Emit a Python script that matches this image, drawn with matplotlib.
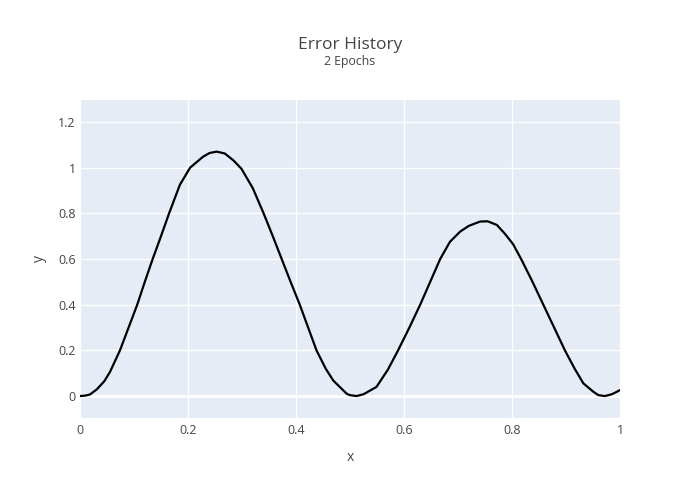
import matplotlib
matplotlib.use("Agg")
import matplotlib.pyplot as plt

# error curve
xs = [0.0, 0.01, 0.0185, 0.031, 0.045, 0.0556, 0.074, 0.09, 0.106, 0.12,
      0.1346, 0.15, 0.165, 0.185, 0.204, 0.228, 0.24, 0.253, 0.268, 0.284,
      0.299, 0.32, 0.340, 0.357, 0.3735, 0.39, 0.407, 0.4225, 0.438, 0.455,
      0.469, 0.494, 0.50, 0.512, 0.525, 0.549, 0.57, 0.589, 0.61, 0.630,
      0.6485, 0.667, 0.685, 0.704, 0.72, 0.741, 0.755, 0.772, 0.787, 0.802,
      0.818, 0.838, 0.858, 0.878, 0.898, 0.916, 0.932, 0.95, 0.96, 0.972,
      0.985, 1.0]
ys = [0.0, 0.002, 0.007, 0.029, 0.065, 0.106, 0.2, 0.3, 0.4, 0.5,
      0.6, 0.70, 0.8, 0.925, 1.0, 1.048, 1.064, 1.07, 1.062, 1.032,
      0.995, 0.91, 0.8, 0.7, 0.6, 0.5, 0.4, 0.3, 0.2, 0.12,
      0.068, 0.01, 0.004, 0.0, 0.008, 0.04, 0.115, 0.2, 0.3, 0.4,
      0.5, 0.6, 0.675, 0.72, 0.745, 0.764, 0.765, 0.749, 0.71, 0.665,
      0.595, 0.5, 0.4, 0.3, 0.2, 0.12, 0.056, 0.02, 0.004, 0.0,
      0.008, 0.026]

xticks = [0, 0.2, 0.4, 0.6, 0.8, 1]
yticks = [0, 0.2, 0.4, 0.6, 0.8, 1, 1.2]

def lbl(v):
    return "0" if v == 0 else ("1" if v == 1 else "%g" % v)

plt.rcParams['font.family'] = ['Open Sans', 'DejaVu Sans']
txt = '#444444'

fig = plt.figure(figsize=(7, 5), dpi=100)
ax = fig.add_axes([80/700, 82/500, 540/700, 318/500])
ax.set_facecolor('#E5ECF6')
for s in ax.spines.values():
    s.set_visible(False)

ax.plot(xs, ys, color='black', lw=1.6, zorder=3, solid_joinstyle='round')

ax.set_xlim(0, 1)
ax.set_ylim(-0.096, 1.296)
ax.set_xticks(xticks)
ax.set_xticklabels([lbl(v) for v in xticks])
ax.set_yticks(yticks)
ax.set_yticklabels([lbl(v) for v in yticks])
ax.grid(True, color='white', lw=1, zorder=1)
ax.axhline(0, color='white', lw=2, zorder=2)
ax.set_axisbelow(True)
ax.tick_params(length=0, labelsize=9, colors=txt)
ax.tick_params(axis='x', pad=4)
ax.tick_params(axis='y', pad=3)

ax.set_xlabel('x', fontsize=10, color=txt, labelpad=10)
ax.set_ylabel('y', fontsize=10, color=txt, labelpad=8)

fig.text(0.5, 1 - 45/500, 'Error History', ha='center', va='center',
         fontsize=12.5, color=txt)
fig.text(0.5, 1 - 62/500, '2 Epochs', ha='center', va='center',
         fontsize=8.8, color=txt)

fig.savefig('out.png', dpi=100)
